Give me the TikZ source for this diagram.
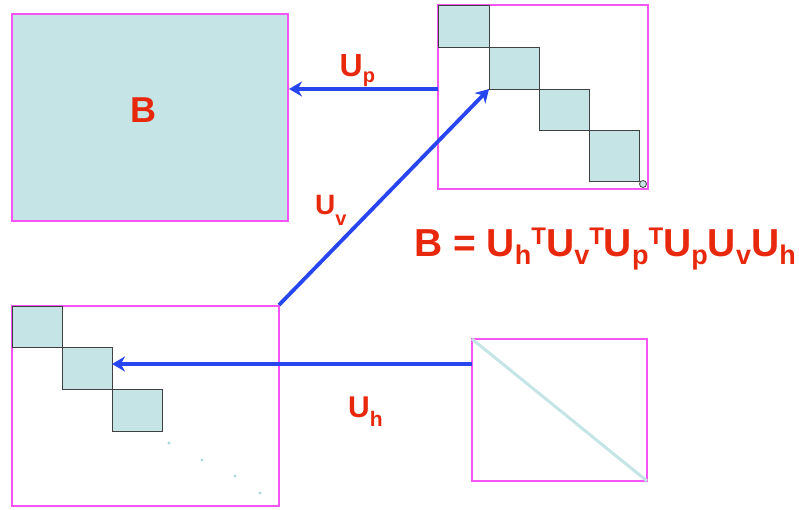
\documentclass[tikz,border=0pt]{standalone}
\usepackage{fontspec}
\setmainfont{Liberation Sans}
\usetikzlibrary{arrows.meta}
\definecolor{mfill}{RGB}{197,228,230}
\definecolor{mdot}{RGB}{170,215,220}
\definecolor{mframe}{RGB}{245,85,245}
\definecolor{ared}{RGB}{232,40,12}
\definecolor{ablue}{RGB}{40,70,240}
\newcommand{\sbx}[1]{\raisebox{-8pt}{\fontsize{27}{27}\selectfont #1}}
\newcommand{\spx}[1]{\raisebox{12pt}{\fontsize{24}{24}\selectfont #1}}
\newcommand{\lsb}[1]{\raisebox{-9pt}{\fontsize{21}{21}\selectfont #1}}
\tikzset{
  frame/.style={draw=mframe, line width=2.6pt},
  blk/.style={draw=black!75, fill=mfill, line width=0.9pt},
  arr/.style={draw=ablue, line width=3.8pt, -{Stealth[length=13pt,width=15pt]}},
  lbl/.style={text=ared, font=\bfseries\fontsize{30}{30}\selectfont, inner sep=0pt, anchor=base west},
  eq/.style={text=ared, font=\bfseries\fontsize{39}{39}\selectfont, inner sep=0pt, anchor=base west},
}
\begin{document}
\begin{tikzpicture}[x=1pt,y=-1pt]
\useasboundingbox (0,0) rectangle (799,510);
% big B box
\draw[frame, fill=mfill] (12,14) rectangle (288,221);
\node[text=ared, font=\bfseries\fontsize{36}{36}\selectfont, inner sep=0pt, anchor=base west] (Bl) at (130.5,123) {B};
% top-right box
\draw[frame] (438,5) rectangle (648,189);
\draw[blk] (438,5) rectangle (489,47);
\draw[blk] (489,47) rectangle (539,89);
\draw[blk] (539,89) rectangle (589,130);
\draw[blk] (589,130) rectangle (639,181);
\draw[draw=black!75, fill=mfill, line width=0.8pt] (643,184) circle (3.5);
\coordinate (pR) at (438,89);
\coordinate (pL) at (289,89);
\coordinate (vTip) at (489,89);
% bottom-left box
\draw[frame] (12,306) rectangle (279,506);
\draw[blk] (12,306) rectangle (62,347);
\draw[blk] (62,347) rectangle (112,389);
\draw[blk] (112,389) rectangle (162,431);
\foreach \p in {(169,443),(202,460),(235,476),(260,493)} \fill[mdot] \p circle (1.7);
\coordinate (vStart) at (279,305);
\coordinate (hTip) at (112,364);
% bottom-right box
\draw[frame] (472,339) rectangle (647,481);
\draw[draw=mfill, line width=3pt] (472,339) -- (647,481);
\coordinate (hStart) at (472,364);
% arrows
\draw[arr] (pR) -- (pL);
\draw[arr] (vStart) -- (vTip);
\draw[arr] (hStart) -- (hTip);
% labels
\node[lbl, font=\bfseries\fontsize{32}{32}\selectfont] (Up) at (339.5,77) {U\raisebox{-6pt}{\fontsize{20}{20}\selectfont p}};
\node[lbl, font=\bfseries\fontsize{28}{28}\selectfont] (Uv) at (315,215) {U\raisebox{-11pt}{\fontsize{20}{20}\selectfont v}};
\node[lbl] (Uh) at (348,417) {U\lsb{h}};
\node[eq] (eqn) at (414,257) {B = U\sbx{h}\spx{T}U\sbx{v}\spx{T}U\sbx{p}\spx{T}U\sbx{p}U\sbx{v}U\sbx{h}};
\end{tikzpicture}
\end{document}
